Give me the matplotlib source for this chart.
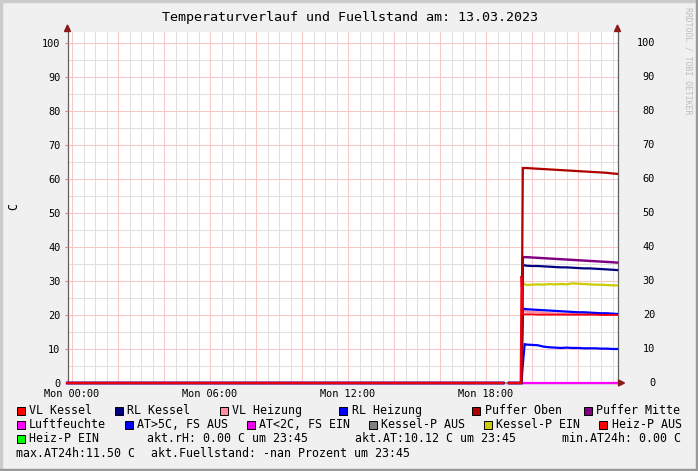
import matplotlib
matplotlib.use("Agg")
import matplotlib.pyplot as plt
from matplotlib.patches import Rectangle, Polygon
from matplotlib.transforms import blended_transform_factory

nan = float('nan')

# ---------------- data ----------------
title = "Temperaturverlauf und Fuellstand am: 13.03.2023"
hours = [-0.2, 18.75, 18.8, 19.0, 19.5, 19.54, 19.6, 19.68, 19.75, 20.0, 20.25, 20.5,
         20.75, 21.0, 21.25, 21.5, 21.75, 22.0, 22.25, 22.5, 22.75, 23.0, 23.25, 23.5, 23.7]

puffer_oben = [0, 0, nan, 0, 0, 0, 63.2, 63.2, 63.2, 63.1, 63.0, 62.9, 62.8, 62.7, 62.6,
               62.5, 62.4, 62.3, 62.2, 62.1, 62.0, 61.9, 61.8, 61.6, 61.5]
puffer_mitte = [0, 0, nan, 0, 0, 0, 37.0, 37.0, 37.0, 36.9, 36.8, 36.7, 36.6, 36.5, 36.4,
                36.3, 36.2, 36.1, 36.0, 35.9, 35.8, 35.7, 35.6, 35.5, 35.4]
rl_kessel = [0, 0, nan, 0, 0, 0, 34.6, 34.6, 34.5, 34.4, 34.4, 34.3, 34.2, 34.1, 34.0,
             34.0, 33.9, 33.8, 33.7, 33.7, 33.6, 33.5, 33.4, 33.3, 33.2]
rl_heizung = [0, 0, nan, 0, 0, 0, 21.8, 21.8, 21.7, 21.6, 21.5, 21.4, 21.3, 21.2, 21.1,
              21.0, 20.9, 20.8, 20.8, 20.7, 20.6, 20.5, 20.5, 20.4, 20.3]
vl_kessel = [0, 0, nan, 0, 0, 31.5, 20.2, 20.2, 20.2, 20.2, 20.1, 20.1, 20.1, 20.1, 20.1,
             20.1, 20.1, 20.1, 20.1, 20.1, 20.1, 20.0, 20.0, 20.0, 20.0]
vl_heizung = [0, 0, nan, 0, 0, 0, 21.3, 21.2, 21.0, 20.9, 20.8, 20.6, 20.5, 20.4, 20.3,
              20.3, 20.2, 20.2, 20.2, 20.2, 20.2, 20.1, 20.1, 20.1, 20.1]
aussen_temp = [0, 0, nan, 0, 0, 0, 5.4, 11.4, 11.3, 11.2, 11.1, 10.7, 10.5, 10.4, 10.3,
               10.4, 10.3, 10.3, 10.2, 10.2, 10.2, 10.1, 10.1, 10.0, 10.0]
kessel_p_ein = [nan, nan, nan, nan, nan, nan, nan, 29.1, 28.8, 28.9, 29.0, 28.9, 29.1, 29.0,
                29.1, 29.0, 29.3, 29.2, 29.1, 29.0, 28.9, 28.9, 28.8, 28.7, 28.7]
kessel_p_aus = [0, 0, 0, 0, 0, nan, nan, nan, nan, nan, nan, nan, nan, nan, nan, nan, nan,
                nan, nan, nan, nan, nan, nan, nan, nan]
luftfeuchte = [0, 0, nan, 0, 0, 0, 0, 0, 0, 0, 0, 0, 0, 0, 0, 0, 0, 0, 0, 0, 0, 0, 0, 0, 0]

x_tick_hours = [0, 6, 12, 18]
x_tick_labels = ["Mon 00:00", "Mon 06:00", "Mon 12:00", "Mon 18:00"]
y_ticks = [0, 10, 20, 30, 40, 50, 60, 70, 80, 90, 100]

legend_rows = [
    [("VL Kessel", "#FF0000"), ("RL Kessel", "#000080"), ("VL Heizung", "#FF8FA0"),
     ("RL Heizung", "#0000FF"), ("Puffer Oben", "#B00000"), ("Puffer Mitte", "#800080")],
    [("Luftfeuchte", "#FF00FF"), ("AT>5C, FS AUS", "#0000FF"), ("AT<2C, FS EIN", "#EE00EE"),
     ("Kessel-P AUS", "#808080"), ("Kessel-P EIN", "#CCCC00"), ("Heiz-P AUS", "#FF0000")],
    [("Heiz-P EIN", "#00FF00")],
]
legend_text_x = [[30, 128, 233, 352.5, 485.5, 597],
                 [30, 138, 260, 382, 497, 612.5],
                 [30]]
info_row3 = [("akt.rH: 0.00 C um 23:45", 147.7), ("akt.AT:10.12 C um 23:45", 355.7),
             ("min.AT24h: 0.00 C", 563.3)]
info_row4 = [("max.AT24h:11.50 C", 16.7), ("akt.Fuellstand: -nan Prozent um 23:45", 151.7)]

# ---------------- figure ----------------
W, H = 698, 471
MONO = "DejaVu Sans Mono"
plt.rcParams['font.family'] = MONO

fig = plt.figure(figsize=(W / 100, H / 100), dpi=100)
fig.patch.set_facecolor('#F0F0F0')


def fx(px):
    return px / W


def fy(py):
    return 1 - py / H


# 3D border
fig.patches.append(Rectangle((0, fy(2)), 1, 2 / H, transform=fig.transFigure, color='#CBCBCB', zorder=0))
fig.patches.append(Rectangle((0, 0), 2 / W, 1, transform=fig.transFigure, color='#CBCBCB', zorder=0))
fig.patches.append(Rectangle((0, 0), 1, 2 / H, transform=fig.transFigure, color='#999999', zorder=0))
fig.patches.append(Rectangle((fx(W - 2), 0), 2 / W, 1, transform=fig.transFigure, color='#999999', zorder=0))

L, R, T, B = 67.5, 617.5, 32, 383
ax = fig.add_axes([fx(L), fy(B), (R - L) / W, (B - T) / H])
ax.set_facecolor('white')
ax.set_xlim(-0.196, 23.717)
ax.set_ylim(0, 103.2)

# grid
minor_col, major_col = '#E0E0E0', '#F6C8C8'
h = 0.0
while h <= 23.7:
    if abs(h % 2) < 1e-9:
        ax.axvline(h, color=major_col, lw=0.75, zorder=0.6)
    else:
        ax.axvline(h, color=minor_col, lw=0.75, zorder=0.5)
    h += 0.5
for v in range(5, 101, 5):
    if v % 10 == 0:
        ax.axhline(v, color=major_col, lw=0.75, zorder=0.6)
    else:
        ax.axhline(v, color=minor_col, lw=0.75, zorder=0.5)

series = [
    (luftfeuchte, '#FF00FF', 2, 1.6),
    (kessel_p_aus, '#A0A0A0', 2.1, 1.6),
    (vl_heizung, '#FF8FA0', 3, 1.8),
    (rl_heizung, '#0000FF', 3.2, 1.6),
    (aussen_temp, '#0000FF', 3.3, 1.6),
    (kessel_p_ein, '#CCCC00', 3.4, 1.6),
    (rl_kessel, '#000080', 3.5, 1.6),
    (puffer_mitte, '#800080', 3.6, 1.75),
    (puffer_oben, '#B00000', 3.7, 1.6),
    (vl_kessel, '#F00010', 3.8, 1.3),
]
for vals, col, z, lw in series:
    ax.plot(hours, vals, color=col, lw=lw, zorder=z, clip_on=False, solid_joinstyle='miter')

ax.spines['top'].set_visible(False)
for s in ['left', 'right', 'bottom']:
    ax.spines[s].set_color('#606060')
    ax.spines[s].set_linewidth(0.9)
    ax.spines[s].set_zorder(1)

ax.set_xticks(x_tick_hours)
ax.set_xticklabels(x_tick_labels)
ax.set_yticks(y_ticks)
ax.set_yticklabels([str(v) for v in y_ticks])
ax.tick_params(axis='x', length=0, pad=4.6, labelsize=7.4, colors='black')
ax.tick_params(axis='y', length=2.2, width=0.8, color='#E08080', pad=3.0, labelsize=7.4)
ax.tick_params(axis='y', which='both', labelcolor='black')

# right axis labels
tr = blended_transform_factory(fig.transFigure, ax.transData)
for v in y_ticks:
    ax.text(fx(655), v, str(v), transform=tr, ha='right', va='center', fontsize=7.4, family=MONO)

# arrows
arrow_col = '#8B1A1A'
for xa in (L, R):
    fig.patches.append(Polygon([(fx(xa), fy(25)), (fx(xa - 3), fy(31.5)), (fx(xa + 3), fy(31.5))],
                               closed=True, transform=fig.transFigure, color=arrow_col, zorder=5))
fig.patches.append(Polygon([(fx(624.5), fy(B)), (fx(618.5), fy(B - 3)), (fx(618.5), fy(B + 3))],
                           closed=True, transform=fig.transFigure, color=arrow_col, zorder=5))

# texts
fig.text(fx(350), fy(17), title, ha='center', va='center', fontsize=9.6, family=MONO)
fig.text(fx(14), fy(207), 'C', rotation=90, ha='center', va='center', fontsize=8.4, family=MONO)
fig.text(fx(688), fy(61), 'RRDTOOL / TOBI OETIKER', rotation=-90, ha='center', va='center',
         fontsize=5.9, color='#BDBDBD', family=MONO)

row_y = [410.7, 425, 438.9, 453.3]
for r, row in enumerate(legend_rows):
    for (lab, col), tx in zip(row, legend_text_x[r]):
        bx = tx - 13.3
        fig.patches.append(Rectangle((fx(bx), fy(row_y[r] + 4)), 8 / W, 8 / H, transform=fig.transFigure,
                                     facecolor=col, edgecolor='black', lw=0.7, zorder=5))
        fig.text(fx(tx - 0.8), fy(row_y[r]), lab, ha='left', va='center', fontsize=8.4, family=MONO)
for lab, tx in info_row3:
    fig.text(fx(tx - 0.8), fy(row_y[2]), lab, ha='left', va='center', fontsize=8.4, family=MONO)
for lab, tx in info_row4:
    fig.text(fx(tx - 0.8), fy(row_y[3]), lab, ha='left', va='center', fontsize=8.4, family=MONO)

fig.savefig('out.png', dpi=100, facecolor=fig.get_facecolor())
